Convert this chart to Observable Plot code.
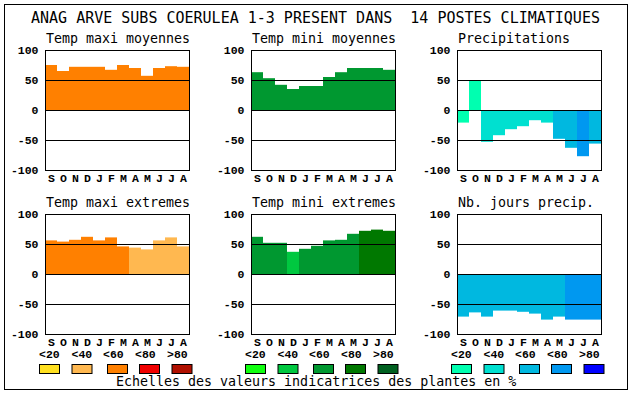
<!DOCTYPE html>
<html>
<head>
<meta charset="utf-8">
<script src="https://cdn.jsdelivr.net/npm/d3@7"></script>
<script src="https://cdn.jsdelivr.net/npm/@observablehq/plot@0.6"></script>
<style>
  html, body { margin: 0; padding: 0; background: #fff; }
  #chart { position: relative; width: 630px; height: 394px; background: #fff; overflow: hidden; }
  #chart > .panel { position: absolute; }
  #frame { position: absolute; left: 4px; top: 4px; width: 622px; height: 384px; border: 1px solid #000; box-sizing: content-box; }
  #overlay { position: absolute; left: 0; top: 0; }
</style>
</head>
<body>
<div id="chart"><div id="frame"></div></div>
<script>
// ---------- data ----------
const title = "ANAG ARVE SUBS COERULEA 1-3 PRESENT DANS  14 POSTES CLIMATIQUES";
const caption = "Echelles des valeurs indicatrices des plantes en %";
const months = ["S","O","N","D","J","F","M","A","M","J","J","A"];
const yTicks = [100, 50, 0, -50, -100];
const legendLabels = ["<20", "<40", "<60", "<80", ">80"];

const orangePal = ["#ffe020", "#ffb850", "#ff8000", "#f00000", "#b01000"];
const greenPal  = ["#10ff10", "#00c840", "#009830", "#007800", "#006020"];
const bluePal   = ["#00ffb0", "#00e0d0", "#00b8e0", "#0098f0", "#0000ff"];

const tempMaxiMoy      = [75, 65, 72, 72, 72, 67, 75, 70, 57, 70, 73, 72];
const tempMaxiMoyClass = [2, 2, 2, 2, 2, 2, 2, 2, 2, 2, 2, 2];
const tempMiniMoy      = [63, 53, 42, 35, 40, 40, 55, 63, 70, 70, 70, 67];
const tempMiniMoyClass = [2, 2, 2, 2, 2, 2, 2, 2, 2, 2, 2, 2];
const precip           = [-21, 49, -53, -42, -32, -27, -17, -21, -48, -63, -77, -56];
const precipClass      = [0, 0, 1, 1, 1, 1, 1, 1, 2, 2, 3, 2];
const tempMaxiExt      = [56, 54, 57, 62, 56, 61, 46, 44, 41, 56, 61, 46];
const tempMaxiExtClass = [2, 2, 2, 2, 2, 2, 2, 1, 1, 1, 1, 1];
const tempMiniExt      = [62, 52, 52, 37, 42, 47, 56, 57, 67, 72, 74, 72];
const tempMiniExtClass = [2, 2, 2, 1, 2, 2, 2, 2, 2, 3, 3, 3];
const nbJours          = [-71, -64, -71, -61, -61, -63, -66, -76, -71, -76, -76, -76];
const nbJoursClass     = [2, 2, 2, 2, 2, 2, 2, 2, 2, 3, 3, 3];

const panels = [
  {name: "Temp maxi moyennes", values: tempMaxiMoy, classes: tempMaxiMoyClass, pal: orangePal, col: 0, row: 0},
  {name: "Temp mini moyennes", values: tempMiniMoy, classes: tempMiniMoyClass, pal: greenPal, col: 1, row: 0},
  {name: "Precipitations", values: precip, classes: precipClass, pal: bluePal, col: 2, row: 0},
  {name: "Temp maxi extremes", values: tempMaxiExt, classes: tempMaxiExtClass, pal: orangePal, col: 0, row: 1},
  {name: "Temp mini extremes", values: tempMiniExt, classes: tempMiniExtClass, pal: greenPal, col: 1, row: 1},
  {name: "Nb. jours precip.", values: nbJours, classes: nbJoursClass, pal: bluePal, col: 2, row: 1}
];
const legendPals = [orangePal, greenPal, bluePal];

// ---------- layout ----------
const frameX = [45, 251, 457];
const frameY = [50, 214];
const frameW = 144, frameH = 120;
const mL = 45, mR = 10, mT = 10, mB = 22;
const chart = document.getElementById("chart");
const tickFont = "'Liberation Mono', 'DejaVu Sans Mono', monospace";
const textFont = "'DejaVu Sans Mono', monospace";

panels.forEach(p => {
  const data = p.values.map((v, i) => ({i, v, c: p.pal[p.classes[i]]}));
  const svg = Plot.plot({
    width: frameW + mL + mR,
    height: frameH + mT + mB,
    marginLeft: mL, marginRight: mR, marginTop: mT, marginBottom: mB,
    style: {fontFamily: tickFont, fontSize: "11.5px", fontWeight: "bold", background: "transparent", color: "#000", overflow: "visible"},
    x: {type: "band", domain: d3.range(months.length), padding: 0, label: null, tickSize: 0, tickPadding: 3, tickFormat: i => months[i]},
    y: {domain: [-100, 100], ticks: yTicks, label: null, tickSize: 0, tickPadding: 7, tickFormat: d => String(d)},
    color: {type: "identity"},
    marks: [
      Plot.barY(data, {x: "i", y: "v", fill: "c", insetLeft: 0, insetRight: 0}),
      Plot.ruleY([50, 0, -50], {stroke: "#000", strokeWidth: 1}),
      Plot.frame({stroke: "#000", strokeWidth: 1})
    ]
  });
  const wrap = document.createElement("div");
  wrap.className = "panel";
  wrap.style.left = (frameX[p.col] - mL) + "px";
  wrap.style.top = (frameY[p.row] - mT) + "px";
  wrap.appendChild(svg);
  chart.appendChild(wrap);
});

// ---------- text & legend overlay ----------
const ns = "http://www.w3.org/2000/svg";
const ov = document.createElementNS(ns, "svg");
ov.setAttribute("id", "overlay");
ov.setAttribute("width", 630);
ov.setAttribute("height", 394);
chart.appendChild(ov);
function txt(x, y, s, size, weight, family, anchor) {
  const t = document.createElementNS(ns, "text");
  t.setAttribute("x", x); t.setAttribute("y", y);
  t.setAttribute("font-family", family);
  t.setAttribute("font-size", size);
  t.setAttribute("font-weight", weight);
  t.setAttribute("fill", "#000");
  if (anchor) t.setAttribute("text-anchor", anchor);
  t.setAttribute("xml:space", "preserve");
  t.style.whiteSpace = "pre";
  t.textContent = s;
  ov.appendChild(t);
}
txt(31, 23, title, "15px", "normal", textFont);
panels.forEach(p => txt(frameX[p.col] + 1, frameY[p.row] - 7, p.name, "13.3px", "normal", textFont));

const labelOff = [0, 32.5, 64, 96, 128];
const boxOff = [0, 32.5, 68, 100, 132.5];
const groupX = [39, 245, 451];
legendPals.forEach((pal, g) => {
  legendLabels.forEach((lab, i) => {
    txt(groupX[g] + labelOff[i], 358, lab, "11.5px", "bold", tickFont);
    const r = document.createElementNS(ns, "rect");
    r.setAttribute("x", groupX[g] + boxOff[i] + 0.5);
    r.setAttribute("y", 364.5);
    r.setAttribute("width", 20);
    r.setAttribute("height", 9);
    r.setAttribute("fill", pal[i]);
    r.setAttribute("stroke", "#000");
    r.setAttribute("stroke-width", 1);
    ov.appendChild(r);
  });
});
txt(116, 386, caption, "13.3px", "normal", textFont);
</script>
</body>
</html>
